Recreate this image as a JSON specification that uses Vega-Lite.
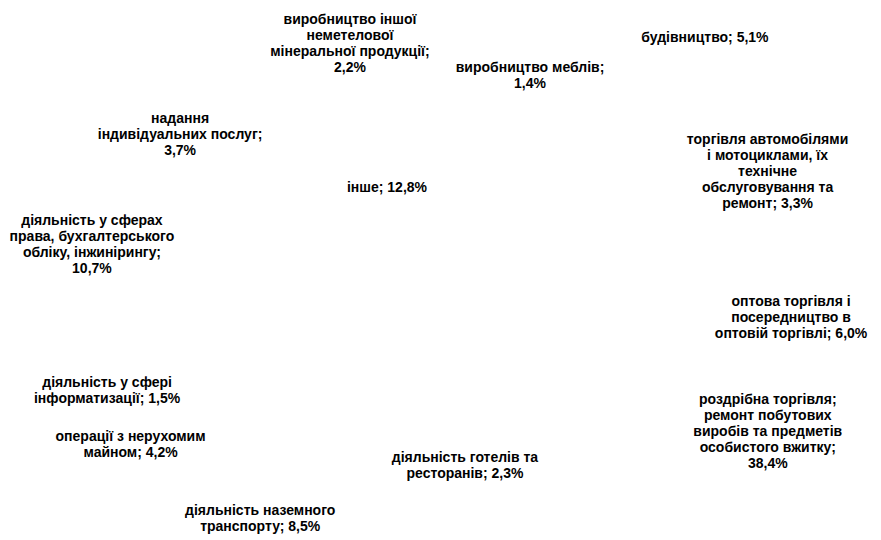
{
  "$schema": "https://vega.github.io/schema/vega-lite/v6.json",
  "width": 881,
  "height": 540,
  "autosize": {"type": "fit", "contains": "padding"},
  "padding": 0,
  "background": "#ffffff",
  "view": {"stroke": null},
  "data": {
    "values": [
      {"k": 1, "name": "будівництво", "value": 5.1, "label": "будівництво; 5,1%"},
      {"k": 2, "name": "торгівля автомобілями", "value": 3.3, "label": "торгівля автомобілями\nі мотоциклами, їх\nтехнічне\nобслуговування та\nремонт; 3,3%"},
      {"k": 3, "name": "оптова торгівля", "value": 6.0, "label": "оптова торгівля і\nпосередництво в\nоптовій торгівлі; 6,0%"},
      {"k": 4, "name": "роздрібна торгівля", "value": 38.4, "label": "роздрібна торгівля;\nремонт побутових\nвиробів та предметів\nособистого вжитку;\n38,4%"},
      {"k": 5, "name": "діяльність готелів та ресторанів", "value": 2.3, "label": "діяльність готелів та\nресторанів; 2,3%"},
      {"k": 6, "name": "діяльність наземного транспорту", "value": 8.5, "label": "діяльність наземного\nтранспорту; 8,5%"},
      {"k": 7, "name": "операції з нерухомим майном", "value": 4.2, "label": "операції з нерухомим\nмайном; 4,2%"},
      {"k": 8, "name": "діяльність у сфері інформатизації", "value": 1.5, "label": "діяльність у сфері\nінформатизації; 1,5%"},
      {"k": 9, "name": "діяльність у сферах права", "value": 10.7, "label": "діяльність у сферах\nправа, бухгалтерського\nобліку, інжинірингу;\n10,7%"},
      {"k": 10, "name": "надання індивідуальних послуг", "value": 3.7, "label": "надання\nіндивідуальних послуг;\n3,7%"},
      {"k": 11, "name": "інше", "value": 12.8, "label": "інше; 12,8%"},
      {"k": 12, "name": "виробництво іншої неметелової мінеральної продукції", "value": 2.2, "label": "виробництво іншої\nнеметелової\nмінеральної продукції;\n2,2%"},
      {"k": 13, "name": "виробництво меблів", "value": 1.4, "label": "виробництво меблів;\n1,4%"}
    ]
  },
  "transform": [
    {"stack": "value", "groupby": [], "sort": [{"field": "k", "order": "ascending"}], "as": ["v0", "v1"]}
  ],
  "encoding": {
    "theta": {
      "field": "v0",
      "type": "quantitative",
      "stack": null,
      "scale": {
        "type": "linear",
        "zero": false,
        "nice": false,
        "domain": [0, 5.1, 8.4, 14.4, 52.8, 55.1, 63.6, 67.8, 69.3, 80.0, 83.7, 96.5, 98.7, 100.1],
        "range": [0.84997, 1.19206, 1.66155, 1.94779, 3.01244, 3.78388, 4.21846, 4.38601, 4.85202, 5.23774, 5.70548, 5.93587, 6.70032, 6.98132]
      }
    }
  },
  "layer": [
    {
      "mark": {"type": "arc", "outerRadius": 180, "fill": "#ffffff", "stroke": null},
      "encoding": {"theta2": {"field": "v1"}}
    },
    {
      "transform": [{"filter": {"field": "k", "oneOf": [1, 2, 3, 4, 7, 8, 9]}}],
      "mark": {"type": "text", "radius": 352, "font": "Liberation Sans", "fontWeight": "bold", "fontSize": 14, "lineHeight": 16, "lineBreak": "\n", "fill": "#000000", "align": "center", "baseline": "middle"},
      "encoding": {"text": {"field": "label", "type": "nominal"}}
    },
    {
      "transform": [{"filter": {"field": "k", "oneOf": [6, 10]}}],
      "mark": {"type": "text", "radius": 301, "font": "Liberation Sans", "fontWeight": "bold", "fontSize": 14, "lineHeight": 16, "lineBreak": "\n", "fill": "#000000", "align": "center", "baseline": "middle"},
      "encoding": {"text": {"field": "label", "type": "nominal"}}
    },
    {
      "transform": [{"filter": {"field": "k", "oneOf": [12]}}],
      "mark": {"type": "text", "radius": 266, "font": "Liberation Sans", "fontWeight": "bold", "fontSize": 14, "lineHeight": 16, "lineBreak": "\n", "fill": "#000000", "align": "center", "baseline": "middle"},
      "encoding": {"text": {"field": "label", "type": "nominal"}}
    },
    {
      "transform": [{"filter": {"field": "k", "oneOf": [13]}}],
      "mark": {"type": "text", "radius": 221, "font": "Liberation Sans", "fontWeight": "bold", "fontSize": 14, "lineHeight": 16, "lineBreak": "\n", "fill": "#000000", "align": "center", "baseline": "middle"},
      "encoding": {"text": {"field": "label", "type": "nominal"}}
    },
    {
      "transform": [{"filter": {"field": "k", "oneOf": [5]}}],
      "mark": {"type": "text", "radius": 190, "font": "Liberation Sans", "fontWeight": "bold", "fontSize": 14, "lineHeight": 16, "lineBreak": "\n", "fill": "#000000", "align": "center", "baseline": "middle"},
      "encoding": {"text": {"field": "label", "type": "nominal"}}
    },
    {
      "transform": [{"filter": {"field": "k", "oneOf": [11]}}],
      "mark": {"type": "text", "radius": 98, "font": "Liberation Sans", "fontWeight": "bold", "fontSize": 14, "lineHeight": 16, "lineBreak": "\n", "fill": "#000000", "align": "center", "baseline": "middle"},
      "encoding": {"text": {"field": "label", "type": "nominal"}}
    }
  ]
}
